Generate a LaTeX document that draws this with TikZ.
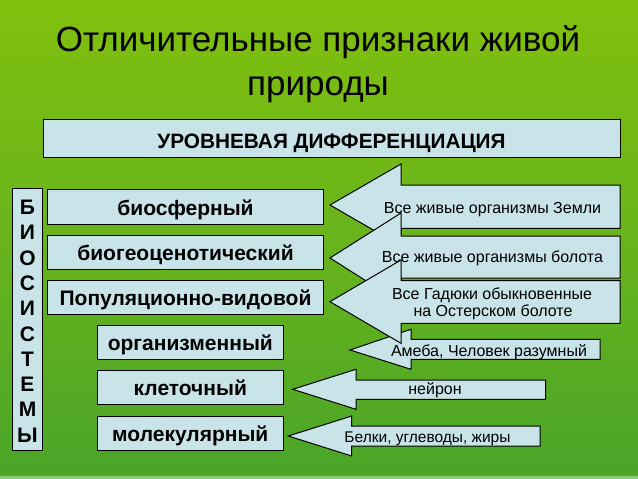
\documentclass[tikz,border=0pt]{standalone}
\usepackage{fontspec}
\setmainfont{Liberation Sans}
\definecolor{boxfill}{RGB}{200,228,232}
\definecolor{bgtop}{RGB}{153,204,0}
\definecolor{bgmid}{RGB}{104,180,28}
\definecolor{bgbot}{RGB}{51,153,51}
\definecolor{bgedge}{RGB}{140,200,120}
\pgfdeclareverticalshading{bgshade}{100bp}{color(0bp)=(bgbot); color(6bp)=(bgbot); color(50bp)=(bgmid); color(100bp)=(bgtop)}
\tikzset{
  lvl/.style={draw=black, line width=1pt, fill=boxfill, inner sep=0pt,
    font=\fontsize{21}{25}\selectfont\bfseries, text depth=0pt, text height=16.7pt},
  arr/.style={draw=black, line width=1pt, fill=boxfill, line join=miter},
  sletter/.style={font=\fontsize{21}{25}\selectfont\bfseries, anchor=base, inner sep=0pt},
  atxt/.style={font=\fontsize{16}{18.5}\selectfont, anchor=base, inner sep=0pt},
  ttl/.style={font=\fontsize{35}{43}\selectfont, anchor=base, inner sep=0pt},
}
\begin{document}
\begin{tikzpicture}[x=1pt,y=-1pt]
\useasboundingbox (0,0) rectangle (638,479);
\shade[shading=bgshade] (0,0) rectangle (638,479);
\fill[bgedge] (0,476) rectangle (638,479);

% title
\node[ttl] (t1) at (318,51.7) {Отличительные признаки живой};
\node[ttl] (t2) at (318,95) {природы};

% header
\node[lvl, minimum width=577pt, minimum height=38.7pt, text height=20pt,
  font=\fontsize{20.8}{25}\selectfont\bfseries] (hdr) at (331.5,138.35) {УРОВНЕВАЯ ДИФФЕРЕНЦИАЦИЯ};

% biosystems column
\draw[line width=1pt, fill=boxfill] (12.7,188.3) rectangle (42.3,450);
\foreach \i/\c in {0/Б,1/И,2/О,3/С,4/И,5/С,6/Т,7/Е,8/М,9/Ы}
  \node[sletter] (s\i) at (27.5,{214.5+25.3*\i}) {\c};

% levels
\node[lvl, minimum width=275.6pt, minimum height=34.7pt] (bio) at (185.5,206.65) {биосферный};
\node[lvl, minimum width=275.6pt, minimum height=34pt] (bgc) at (185.5,252) {биогеоценотический};
\node[lvl, minimum width=275.6pt, minimum height=34pt] (pop) at (185.5,297) {Популяционно-видовой};
\node[lvl, minimum width=186pt, minimum height=34.3pt] (org) at (190.3,342.15) {организменный};
\node[lvl, minimum width=186pt, minimum height=34.3pt] (cel) at (190.3,387.15) {клеточный};
\node[lvl, minimum width=186pt, minimum height=34pt] (mol) at (190.3,433) {молекулярный};

% block arrows
\draw[arr] (350,350) -- (411,329.3) -- (411,339.3) -- (600,339.3) -- (600,359.3) -- (411,359.3) -- (411,369.3) -- cycle;
\node[atxt] (a4) at (489,356) {Амеба, Человек разумный};

\draw[arr] (330,205) -- (401,164) -- (401,185) -- (620,185) -- (620,228.3) -- (401,228.3) -- (401,246) -- cycle;
\node[atxt] (a1) at (492.5,213.3) {Все живые организмы Земли};

\draw[arr] (330,258) -- (401,213) -- (401,236) -- (620,236) -- (620,278) -- (401,278) -- (401,303) -- cycle;
\node[atxt] (a2) at (492.5,262.7) {Все живые организмы болота};

\draw[arr] (330,301.7) -- (401,260) -- (401,280.7) -- (620,280.7) -- (620,323.3) -- (401,323.3) -- (401,343.3) -- cycle;
\node[atxt] (a3a) at (492,299) {Все Гадюки обыкновенные};
\node[atxt] (a3b) at (493,316.7) {на Остерском болоте};

\draw[arr] (292.7,389.3) -- (356,369.3) -- (356,380) -- (545.7,380) -- (545.7,399.3) -- (356,399.3) -- (356,409.3) -- cycle;
\node[atxt] (a5) at (435,394) {нейрон};

\draw[arr] (288.3,436) -- (351.7,416) -- (351.7,426) -- (540,426) -- (540,446) -- (351.7,446) -- (351.7,456) -- cycle;
\node[atxt, font=\fontsize{15.5}{18}\selectfont] (a6) at (427.5,442.7) {Белки, углеводы, жиры};
\end{tikzpicture}
\end{document}
